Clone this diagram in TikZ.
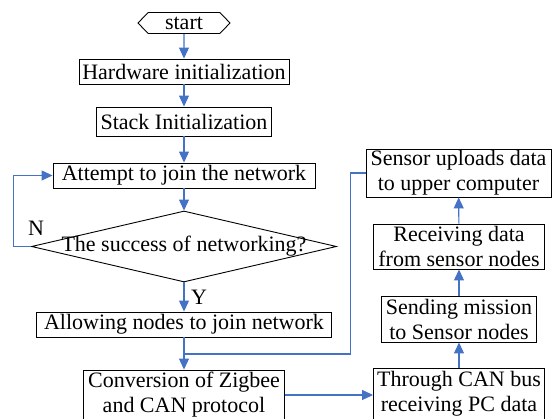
\documentclass[tikz,border=0pt]{standalone}
\usepackage{fontspec}
\setmainfont{Liberation Serif}
\usetikzlibrary{shapes.geometric,shapes.symbols,arrows.meta}
\definecolor{flowblue}{RGB}{68,114,196}

\begin{document}
\begin{tikzpicture}[x=1pt, y=-1pt, font=\fontsize{22}{25}\selectfont,
    box/.style = {shape=rectangle, draw, line width=0.9pt, inner sep=0pt, align=center},
    decision/.style = {shape=diamond, draw, line width=0.9pt, aspect=4.3, inner sep=-6pt, minimum width=305pt, minimum height=71pt},
    terminal/.style = {shape=signal, signal to=west and east, signal pointer angle=92, draw, line width=0.9pt, inner sep=0pt, minimum width=92pt, minimum height=21pt},
    flow/.style = {draw=flowblue, line width=1.1pt},
    arrow/.style = {flow, -{Triangle[width=10pt,length=11pt]}}]
    \useasboundingbox (0,0) rectangle (552,419);
    \node[terminal] (start) at (184,23) {start};
    \node[box, minimum width=210pt, minimum height=25pt] (hw) at (184,71.5) {Hardware initialization};
    \node[box, minimum width=175pt, minimum height=29pt] (stack) at (184,121.5) {Stack Initialization};
    \node[box, minimum width=262pt, minimum height=25pt] (attempt) at (184,175.5) {Attempt to join the network};
    \node[decision] (success) at (184,246.5) {The success of networking?};
    \node[box, minimum width=295pt, minimum height=25pt] (allow) at (184,324.5) {Allowing nodes to join network};
    \node[box, minimum width=201pt, minimum height=50pt] (convert) at (184,395) {Conversion of Zigbee\\and CAN protocol};
    \node[box, minimum width=171pt, minimum height=52pt] (through) at (459,394) {Through CAN bus\\receiving PC data};
    \node[box, minimum width=155pt, minimum height=46pt] (sending) at (459,319) {Sending mission\\to Sensor nodes};
    \node[box, minimum width=171pt, minimum height=45pt] (receiving) at (459,246.5) {Receiving data\\from sensor nodes};
    \node[box, minimum width=185pt, minimum height=48pt] (upload) at (458.5,173) {Sensor uploads data\\to upper computer};
    \node[inner sep=0pt] (no) at (36,228) {N};
    \node[inner sep=0pt] (yes) at (199,297) {Y};
    \coordinate (split) at (184,354);
    \draw[arrow] (start) -- (hw);
    \draw[arrow] (hw) -- (stack);
    \draw[arrow] (stack) -- (attempt);
    \draw[arrow] (attempt) -- (success);
    \draw[arrow] (success) -- (allow);
    \draw[arrow] (allow) -- (convert);
    \draw[arrow] (success.west) -- ++(-18,0) |- (attempt.west);
    \draw[flow] (split) -| ([xshift=-15pt]upload.west) -- (upload.west);
    \draw[arrow] (convert.east) -- (convert.east -| through.west);
    \draw[arrow] (through) -- (sending);
    \draw[arrow] (sending) -- (receiving);
    \draw[arrow] (receiving) -- (upload);
\end{tikzpicture}
\end{document}
